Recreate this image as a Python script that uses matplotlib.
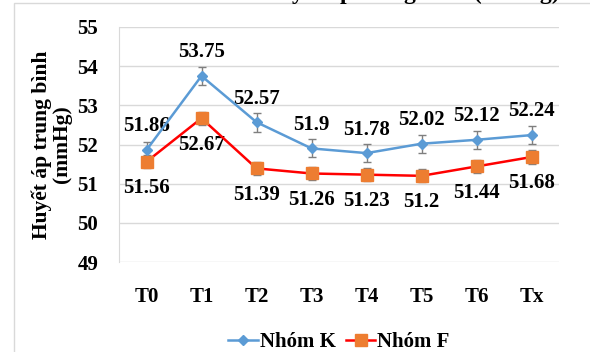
import matplotlib
matplotlib.use('Agg')
import matplotlib.pyplot as plt
from matplotlib.patches import Rectangle
from matplotlib.lines import Line2D

# time points and group means (mmHg)
times = ['T0', 'T1', 'T2', 'T3', 'T4', 'T5', 'T6', 'Tx']
nhom_k = [51.86, 53.75, 52.57, 51.9, 51.78, 52.02, 52.12, 52.24]
nhom_f = [51.56, 52.67, 51.39, 51.26, 51.23, 51.2, 51.44, 51.68]
err_k = [0.20, 0.24, 0.24, 0.23, 0.23, 0.23, 0.23, 0.23]
err_f = [0.17, 0.16, 0.17, 0.17, 0.17, 0.17, 0.17, 0.18]
yticks = [49, 50, 51, 52, 53, 54, 55]

plt.rcParams['font.family'] = ['Liberation Serif', 'DejaVu Serif']
plt.rcParams['font.weight'] = 'bold'

W, H = 590, 352
fig = plt.figure(figsize=(W / 100, H / 100), dpi=100)
fig.patch.set_facecolor('white')

# outer chart frame (runs past the right and bottom edges)
fig.patches.append(Rectangle((14 / W, -0.1), 1.0, 1.1 - 3 / H, transform=fig.transFigure,
                             fill=False, edgecolor='#d9d9d9', linewidth=1.0))

# title sits mostly above the canvas
fig.text(560 / W, 1 + 1.5 / H, 'Diễn biến huyết áp trung bình (mmHg)', ha='right', va='baseline',
         fontsize=17, fontweight='bold')

ax = fig.add_axes([119 / W, 1 - 262 / H, 440 / W, 235 / H])
x = list(range(len(times)))

k_col, f_line, f_mark = '#5b9bd5', '#ff0000', '#ed7d31'
ax.errorbar(x, nhom_k, yerr=err_k, color=k_col, linewidth=1.8, marker='D', markersize=5,
            ecolor='#7f7f7f', elinewidth=1.0, capsize=3, capthick=1.0, zorder=3)
ax.errorbar(x, nhom_f, yerr=err_f, color=f_line, linewidth=1.8, marker='s', markersize=8,
            markerfacecolor=f_mark, markeredgecolor=f_mark,
            ecolor='#7f7f7f', elinewidth=1.0, capsize=3, capthick=1.0, zorder=3)

for xi, v in zip(x, nhom_k):
    ax.annotate(f'{v:g}', (xi, v), xytext=(0, 17), textcoords='offset points',
                ha='center', va='center', fontsize=15, fontweight='bold')
for xi, v in zip(x, nhom_f):
    ax.annotate(f'{v:g}', (xi, v), xytext=(0, -19), textcoords='offset points',
                ha='center', va='center', fontsize=15, fontweight='bold')

ax.set_xlim(-0.5, len(times) - 0.5)
ax.set_ylim(49, 55)
ax.set_yticks(yticks)
ax.set_xticks(x)
ax.set_xticklabels(times)
ax.tick_params(axis='both', length=0, labelsize=15)
ax.tick_params(axis='y', pad=15)
ax.tick_params(axis='x', pad=18)
for lbl in ax.get_xticklabels() + ax.get_yticklabels():
    lbl.set_fontweight('bold')

ax.grid(axis='y', color='#d9d9d9', linewidth=1.0)
ax.set_axisbelow(True)
for s in ['top', 'right', 'bottom']:
    ax.spines[s].set_visible(False)
ax.spines['left'].set_color('#d9d9d9')

ax.set_ylabel('Huyết áp trung bình\n(mmHg)', fontsize=15.5, fontweight='bold', labelpad=4,
              linespacing=0.95)

handles = [Line2D([], [], color=k_col, linewidth=1.8, marker='D', markersize=5),
           Line2D([], [], color=f_line, linewidth=1.8, marker='s', markersize=8,
                  markerfacecolor=f_mark, markeredgecolor=f_mark)]
ax.legend(handles, ['Nhóm K', 'Nhóm F'], loc='center', bbox_to_anchor=(0.5, -0.34), ncol=2,
          frameon=False, fontsize=15, handlelength=1.4, handletextpad=0.1, columnspacing=0.5)

fig.savefig('out.png', dpi=100, facecolor='white')
